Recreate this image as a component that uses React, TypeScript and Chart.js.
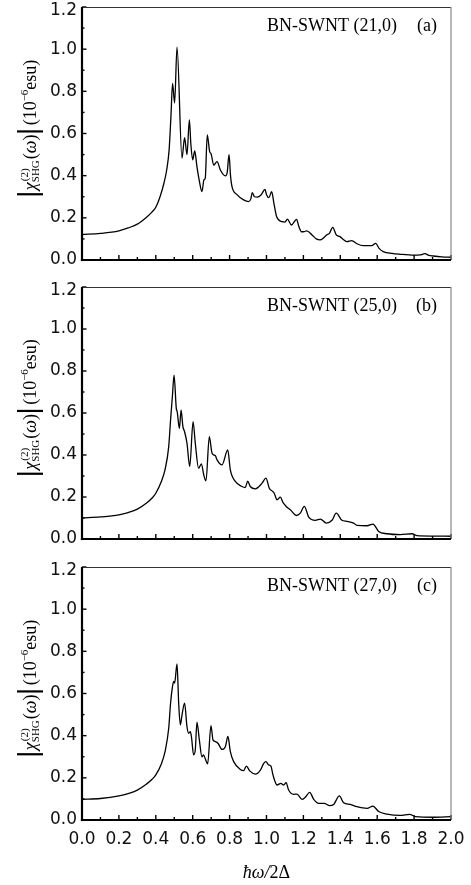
import React, { useEffect, useRef } from "react";
import { Chart, registerables } from "chart.js";

Chart.register(...registerables);

// ---------- data ----------
const xA = [0.0, 0.1, 0.2, 0.25, 0.3, 0.35, 0.38, 0.4, 0.423, 0.444, 0.459, 0.472, 0.482, 0.491, 0.502, 0.515, 0.542, 0.556, 0.569, 0.582, 0.59, 0.6, 0.611, 0.623, 0.637, 0.65, 0.661, 0.668, 0.679, 0.692, 0.7, 0.714, 0.732, 0.75, 0.777, 0.787, 0.797, 0.805, 0.813, 0.84, 0.876, 0.903, 0.915, 0.923, 0.935, 0.95, 0.97, 0.992, 1.0, 1.013, 1.028, 1.04, 1.055, 1.084, 1.1, 1.113, 1.135, 1.163, 1.175, 1.19, 1.205, 1.218, 1.247, 1.27, 1.29, 1.31, 1.326, 1.34, 1.359, 1.378, 1.398, 1.42, 1.435, 1.462, 1.49, 1.525, 1.57, 1.592, 1.61, 1.633, 1.68, 1.724, 1.8, 1.832, 1.859, 1.88, 1.904, 1.95, 2.0];
const yA = [0.121, 0.126, 0.138, 0.152, 0.17, 0.203, 0.228, 0.25, 0.3, 0.364, 0.427, 0.52, 0.68, 0.838, 0.744, 1.01, 0.483, 0.58, 0.5, 0.665, 0.55, 0.475, 0.517, 0.443, 0.37, 0.324, 0.38, 0.388, 0.593, 0.514, 0.503, 0.45, 0.467, 0.427, 0.399, 0.415, 0.5, 0.4, 0.348, 0.31, 0.285, 0.277, 0.29, 0.32, 0.3, 0.298, 0.308, 0.335, 0.31, 0.296, 0.324, 0.27, 0.205, 0.182, 0.18, 0.194, 0.166, 0.193, 0.16, 0.134, 0.135, 0.138, 0.119, 0.1, 0.095, 0.105, 0.119, 0.125, 0.155, 0.119, 0.111, 0.095, 0.087, 0.092, 0.077, 0.068, 0.068, 0.079, 0.055, 0.04, 0.031, 0.027, 0.023, 0.024, 0.03, 0.022, 0.019, 0.015, 0.013];

const xB = [0.0, 0.1, 0.2, 0.25, 0.3, 0.35, 0.38, 0.4, 0.43, 0.45, 0.47, 0.48, 0.49, 0.499, 0.511, 0.516, 0.528, 0.537, 0.547, 0.556, 0.569, 0.584, 0.602, 0.614, 0.632, 0.647, 0.66, 0.672, 0.69, 0.705, 0.723, 0.732, 0.759, 0.79, 0.804, 0.831, 0.867, 0.885, 0.898, 0.912, 0.94, 0.976, 0.997, 1.015, 1.03, 1.042, 1.057, 1.075, 1.089, 1.107, 1.129, 1.162, 1.183, 1.205, 1.229, 1.265, 1.292, 1.324, 1.355, 1.378, 1.409, 1.436, 1.472, 1.49, 1.545, 1.577, 1.608, 1.653, 1.725, 1.789, 1.816, 1.9, 2.0];
const yB = [0.1, 0.105, 0.115, 0.126, 0.142, 0.171, 0.195, 0.218, 0.274, 0.33, 0.44, 0.566, 0.68, 0.78, 0.622, 0.606, 0.527, 0.614, 0.535, 0.511, 0.456, 0.345, 0.559, 0.456, 0.337, 0.358, 0.305, 0.277, 0.487, 0.408, 0.396, 0.377, 0.353, 0.424, 0.329, 0.274, 0.25, 0.245, 0.275, 0.25, 0.239, 0.266, 0.29, 0.242, 0.229, 0.218, 0.187, 0.199, 0.174, 0.155, 0.139, 0.112, 0.123, 0.155, 0.104, 0.089, 0.095, 0.076, 0.089, 0.123, 0.089, 0.084, 0.076, 0.065, 0.063, 0.071, 0.036, 0.025, 0.021, 0.025, 0.016, 0.014, 0.013];

const xC = [0.0, 0.1, 0.2, 0.25, 0.3, 0.35, 0.38, 0.4, 0.43, 0.45, 0.47, 0.48, 0.49, 0.497, 0.502, 0.515, 0.524, 0.533, 0.542, 0.556, 0.569, 0.578, 0.587, 0.593, 0.605, 0.614, 0.623, 0.636, 0.65, 0.659, 0.668, 0.681, 0.699, 0.71, 0.723, 0.737, 0.759, 0.777, 0.791, 0.804, 0.822, 0.858, 0.876, 0.891, 0.909, 0.94, 0.967, 0.985, 0.997, 1.012, 1.024, 1.035, 1.057, 1.078, 1.093, 1.106, 1.12, 1.147, 1.165, 1.192, 1.21, 1.234, 1.256, 1.283, 1.313, 1.342, 1.364, 1.395, 1.418, 1.454, 1.49, 1.545, 1.577, 1.608, 1.653, 1.725, 1.776, 1.807, 1.907, 2.0];
const yC = [0.098, 0.102, 0.114, 0.125, 0.142, 0.171, 0.193, 0.214, 0.266, 0.324, 0.435, 0.554, 0.63, 0.657, 0.649, 0.74, 0.554, 0.451, 0.498, 0.554, 0.443, 0.411, 0.419, 0.396, 0.309, 0.332, 0.464, 0.38, 0.3, 0.309, 0.29, 0.266, 0.448, 0.38, 0.372, 0.364, 0.335, 0.348, 0.396, 0.324, 0.277, 0.24, 0.234, 0.256, 0.233, 0.218, 0.237, 0.269, 0.277, 0.261, 0.256, 0.214, 0.166, 0.174, 0.166, 0.177, 0.142, 0.122, 0.123, 0.098, 0.108, 0.131, 0.098, 0.079, 0.079, 0.068, 0.074, 0.114, 0.082, 0.074, 0.063, 0.055, 0.066, 0.04, 0.028, 0.022, 0.027, 0.016, 0.013, 0.016];

const xTickValues = [0, 0.2, 0.4, 0.6, 0.8, 1.0, 1.2, 1.4, 1.6, 1.8, 2.0];
const xTickLabels = ["0.0", "0.2", "0.4", "0.6", "0.8", "1.0", "1.2", "1.4", "1.6", "1.8", "2.0"];
const yTickValues = [0, 0.2, 0.4, 0.6, 0.8, 1.0, 1.2];
const yTickLabels = ["0.0", "0.2", "0.4", "0.6", "0.8", "1.0", "1.2"];

const tubeLabels = ["BN-SWNT (21,0)", "BN-SWNT (25,0)", "BN-SWNT (27,0)"];
const panelTags = ["(a)", "(b)", "(c)"];

// ---------- drawing helpers ----------
const SERIF = '"Liberation Serif", "Times New Roman", serif';
const SANS = '"DejaVu Sans", sans-serif';

function drawYTitle(ctx: CanvasRenderingContext2D, cx: number, cy: number) {
  const main = `18px ${SERIF}`;
  const mainIt = `italic 18px ${SERIF}`;
  const small = `11px ${SERIF}`;
  type Seg =
    | { k: "bar" }
    | { k: "gap"; w: number }
    | { k: "t"; s: string; f: string; dv?: number }
    | { k: "ss"; sup: string; sub: string };
  const segs: Seg[] = [
    { k: "bar" },
    { k: "gap", w: 3 },
    { k: "t", s: "\u03C7", f: mainIt },
    { k: "ss", sup: "(2)", sub: "SHG" },
    { k: "t", s: "(", f: main },
    { k: "t", s: "\u03C9", f: mainIt },
    { k: "t", s: ")", f: main },
    { k: "gap", w: 2 },
    { k: "bar" },
    { k: "gap", w: 5 },
    { k: "t", s: "(10", f: main },
    { k: "t", s: "\u22126", f: small, dv: -8 },
    { k: "t", s: "esu)", f: main },
  ];
  const widthOf = (s: Seg) => {
    if (s.k === "bar") return 2.2;
    if (s.k === "gap") return s.w;
    if (s.k === "t") {
      ctx.font = s.f;
      return ctx.measureText(s.s).width;
    }
    ctx.font = small;
    return Math.max(ctx.measureText(s.sup).width, ctx.measureText(s.sub).width) + 1;
  };
  const total = segs.reduce((a, s) => a + widthOf(s), 0);
  ctx.save();
  ctx.translate(cx, cy);
  ctx.rotate(-Math.PI / 2);
  ctx.fillStyle = "#000";
  ctx.strokeStyle = "#000";
  ctx.textBaseline = "alphabetic";
  ctx.textAlign = "left";
  let u = -total / 2;
  for (const s of segs) {
    const w = widthOf(s);
    if (s.k === "bar") {
      ctx.lineWidth = 2.2;
      ctx.beginPath();
      ctx.moveTo(u + 1.1, -19);
      ctx.lineTo(u + 1.1, 7);
      ctx.stroke();
    } else if (s.k === "t") {
      ctx.font = s.f;
      ctx.fillText(s.s, u, s.dv || 0);
    } else if (s.k === "ss") {
      ctx.font = small;
      ctx.fillText(s.sup, u + 1, -8);
      ctx.fillText(s.sub, u, 3);
    }
    u += w;
  }
  ctx.restore();
}

function drawXTitle(ctx: CanvasRenderingContext2D, cx: number, baseY: number) {
  const it = `italic 18px ${SERIF}`;
  const up = `18px ${SERIF}`;
  const parts = [
    { s: "\u0127\u03C9/", f: it },
    { s: "2\u0394", f: up },
  ];
  let total = 0;
  for (const p of parts) {
    ctx.font = p.f;
    total += ctx.measureText(p.s).width;
  }
  let x = cx - total / 2;
  ctx.save();
  ctx.fillStyle = "#000";
  ctx.textAlign = "left";
  ctx.textBaseline = "alphabetic";
  for (const p of parts) {
    ctx.font = p.f;
    ctx.fillText(p.s, x, baseY);
    x += ctx.measureText(p.s).width;
  }
  ctx.restore();
}

function makeDecor(label: string, tag: string, showXTitle: boolean) {
  return {
    id: "decor",
    afterDraw(chart: any) {
      const { ctx, chartArea: ca, scales } = chart;
      const xs = scales.x;
      const ys = scales.y;
      ctx.save();
      const line = (x1: number, y1: number, x2: number, y2: number) => {
        ctx.beginPath();
        ctx.moveTo(x1, y1);
        ctx.lineTo(x2, y2);
        ctx.stroke();
      };
      // inward ticks
      ctx.strokeStyle = "#000";
      ctx.lineWidth = 1.4;
      for (let i = 0; i <= 20; i++) {
        const px = xs.getPixelForValue(i / 10);
        const len = i % 2 === 0 ? 5 : 3;
        line(px, ca.bottom, px, ca.bottom - len);
      }
      for (let i = 0; i <= 12; i++) {
        const py = ys.getPixelForValue(i / 10);
        const len = i % 2 === 0 ? 4.5 : 2.5;
        line(ca.left, py, ca.left + len, py);
      }
      // frame
      ctx.strokeStyle = "#333";
      ctx.lineWidth = 1;
      line(ca.left, ca.top + 0.5, ca.right, ca.top + 0.5);
      ctx.strokeStyle = "#888";
      ctx.lineWidth = 1.2;
      line(ca.right, ca.top, ca.right, ca.bottom);
      ctx.strokeStyle = "#000";
      ctx.lineWidth = 2.2;
      line(ca.left, ca.top, ca.left, ca.bottom + 1.1);
      line(ca.left - 1.1, ca.bottom, ca.right, ca.bottom);
      // annotations
      ctx.fillStyle = "#000";
      ctx.font = `18px ${SERIF}`;
      ctx.textBaseline = "alphabetic";
      ctx.textAlign = "right";
      ctx.fillText(label, ca.right - 54, ca.top + 24);
      ctx.fillText(tag, ca.right - 14, ca.top + 24);
      ctx.restore();
      drawYTitle(ctx, 36, (ca.top + ca.bottom) / 2 - 6);
      if (showXTitle) drawXTitle(ctx, (ca.left + ca.right) / 2, ca.bottom + 58);
    },
  };
}

type PanelProps = {
  xs: number[];
  ys: number[];
  label: string;
  tag: string;
  top: number;
  height: number;
  xAxisH: number;
  showX: boolean;
};

function Panel({ xs, ys, label, tag, top, height, xAxisH, showX }: PanelProps) {
  const ref = useRef<HTMLCanvasElement | null>(null);
  useEffect(() => {
    if (!ref.current) return;
    const lastY = yTickLabels.length - 1;
    const chart = new Chart(ref.current, {
      type: "line",
      data: {
        datasets: [
          {
            data: xs.map((x, i) => ({ x, y: ys[i] })),
            borderColor: "#000",
            borderWidth: 1.3,
            pointRadius: 0,
            cubicInterpolationMode: "monotone",
            fill: false,
          },
        ],
      },
      options: {
        animation: false,
        responsive: false,
        maintainAspectRatio: false,
        devicePixelRatio: 1,
        layout: { padding: { top: 7, right: 20, left: 0, bottom: 0 } },
        plugins: { legend: { display: false }, tooltip: { enabled: false } },
        scales: {
          x: {
            type: "linear",
            min: 0,
            max: 2,
            afterBuildTicks: (s: any) => {
              s.ticks = xTickValues.map((v) => ({ value: v }));
            },
            ticks: {
              display: showX,
              autoSkip: false,
              maxRotation: 0,
              minRotation: 0,
              padding: 9,
              color: "#111",
              font: { family: SANS, size: 17 },
              callback: (_v: any, i: number) => xTickLabels[i],
            },
            grid: { display: false, drawTicks: false },
            border: { display: false },
            afterFit: (s: any) => {
              s.height = xAxisH;
              s.paddingLeft = 0;
              s.paddingRight = 0;
            },
          },
          y: {
            type: "linear",
            min: 0,
            max: 1.2,
            afterBuildTicks: (s: any) => {
              s.ticks = yTickValues.map((v) => ({ value: v }));
            },
            ticks: {
              autoSkip: false,
              padding: 5,
              color: "#111",
              font: { family: SANS, size: 17, lineHeight: 0.47 },
              callback: (_v: any, i: number) => (i === lastY ? ["", yTickLabels[i]] : yTickLabels[i]),
            },
            grid: { display: false, drawTicks: false },
            border: { display: false },
            afterFit: (s: any) => {
              s.width = 82;
              s.paddingTop = 0;
              s.paddingBottom = 0;
            },
          },
        },
      } as any,
      plugins: [makeDecor(label, tag, showX)],
    });
    return () => chart.destroy();
  }, [xs, ys, label, tag, xAxisH, showX]);
  return (
    <canvas
      ref={ref}
      width={471}
      height={height}
      style={{ position: "absolute", left: 0, top, width: 471, height }}
    />
  );
}

export default function App() {
  return (
    <div style={{ position: "absolute", left: 0, top: 0, width: 471, height: 885, background: "#fff" }}>
      <Panel xs={xA} ys={yA} label={tubeLabels[0]} tag={panelTags[0]} top={0} height={280} xAxisH={20} showX={false} />
      <Panel xs={xB} ys={yB} label={tubeLabels[1]} tag={panelTags[1]} top={280} height={280} xAxisH={21} showX={false} />
      <Panel xs={xC} ys={yC} label={tubeLabels[2]} tag={panelTags[2]} top={560} height={325} xAxisH={65} showX={true} />
    </div>
  );
}
